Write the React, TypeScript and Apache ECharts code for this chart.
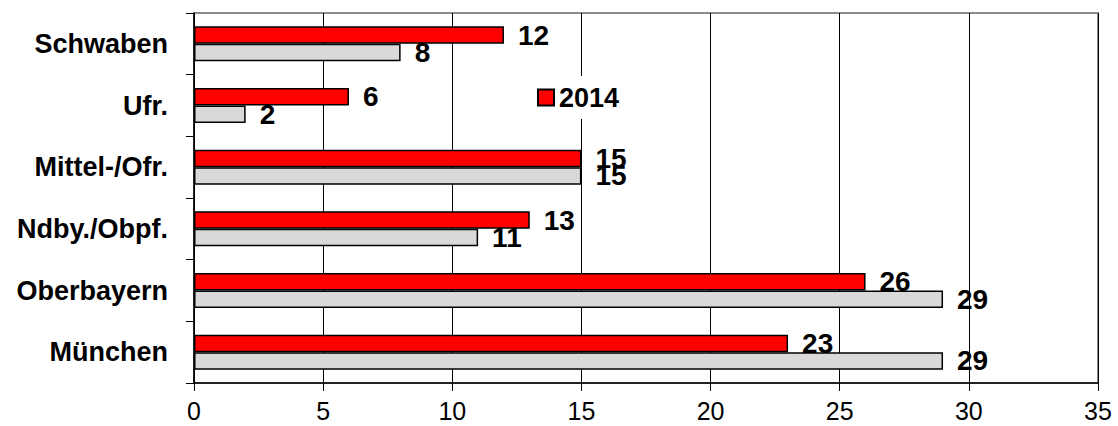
import React, { useEffect, useRef } from "react";
import * as echarts from "echarts";

const categories = ["München", "Oberbayern", "Ndby./Obpf.", "Mittel-/Ofr.", "Ufr.", "Schwaben"];
const values2014 = [23, 26, 13, 15, 6, 12];
const valuesPrev = [29, 29, 11, 15, 2, 8];
const xTicks = { min: 0, max: 35, interval: 5 };

const FONT = "'Liberation Sans', Arial, sans-serif";

export default function App() {
  const ref = useRef<HTMLDivElement>(null);
  useEffect(() => {
    if (!ref.current) return;
    const chart = echarts.init(ref.current, null, { renderer: "svg" });
    const labelStyle = {
      show: true,
      position: "right",
      distance: 14,
      fontSize: 28,
      fontWeight: "bold",
      fontFamily: FONT,
      color: "#000",
    };
    chart.setOption({
      animation: false,
      backgroundColor: "#fff",
      grid: {
        left: 194,
        right: 20,
        top: 13,
        bottom: 43,
        show: true,
        borderColor: "#8c8c8c",
        borderWidth: 2,
        backgroundColor: "transparent",
      },
      legend: {
        data: ["2014"],
        left: 533,
        top: 76,
        padding: [8, 4],
        backgroundColor: "#fff",
        itemWidth: 16,
        itemHeight: 16,
        icon: "rect",
        textStyle: { fontSize: 27, fontWeight: "bold", fontFamily: FONT, color: "#000" },
      },
      xAxis: {
        type: "value",
        min: xTicks.min,
        max: xTicks.max,
        interval: xTicks.interval,
        axisLine: { show: true, lineStyle: { color: "#000", width: 1.5 } },
        axisTick: { show: true, length: 8, lineStyle: { color: "#000" } },
        splitLine: { show: true, lineStyle: { color: "#000", width: 1 } },
        axisLabel: { fontSize: 25, fontFamily: FONT, color: "#000", margin: 15 },
      },
      yAxis: {
        type: "category",
        data: categories,
        axisLine: { show: true, lineStyle: { color: "#000", width: 1.5 } },
        axisTick: { show: true, length: 8, lineStyle: { color: "#000" } },
        splitLine: { show: false },
        axisLabel: {
          fontSize: 27,
          fontWeight: "bold",
          fontFamily: FONT,
          color: "#000",
          margin: 26,
        },
      },
      series: [
        {
          name: "2014",
          type: "bar",
          data: values2014,
          barWidth: 17.5,
          barGap: "0%",
          itemStyle: { color: "#ff0000", borderColor: "#000", borderWidth: 1.5 },
          label: labelStyle,
        },
        {
          name: "Vorjahr",
          type: "bar",
          data: valuesPrev,
          barWidth: 17.5,
          barGap: "0%",
          itemStyle: { color: "#d9d9d9", borderColor: "#000", borderWidth: 1.5 },
          label: labelStyle,
        },
      ],
    });
    return () => chart.dispose();
  }, []);
  return (
    <div
      ref={ref}
      style={{ position: "absolute", left: 0, top: 0, width: 1118, height: 426 }}
    />
  );
}
